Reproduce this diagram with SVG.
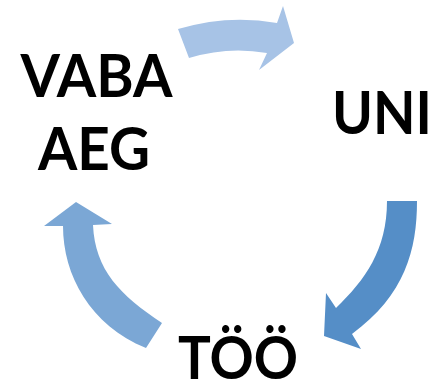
<svg xmlns="http://www.w3.org/2000/svg" width="436" height="384" viewBox="0 0 436 384">
<style>
.t{font-family:Lato,"Open Sans","Liberation Sans",sans-serif;font-weight:bold;font-size:59px;fill:#000;text-anchor:middle}
</style>
<rect width="436" height="384" fill="#fff"/>
<g id="connectors">
<path id="arrow-top" d="M178,29 Q228,14 277,23 L283,6 L294,43 L259,70 L267,53 Q228,46 189,58 Z" fill="#A7C3E6"/>
<path id="arrow-right" d="M387,201 L417,201 C417,250 405,295 352,334 L361,349 L324,336 L326,293 L336,308 C365,280 387,250 387,201 Z" fill="#558EC7"/>
<path id="arrow-left" d="M76,202 L112,224 L93,225 C95,270 120,295 162,323 L146,348 C90,325 63,275 63,226 L44,226 Z" fill="#7BA7D5"/>
</g>
<g id="node-vaba-aeg">
<text class="t" x="96.5" y="97" textLength="152" lengthAdjust="spacingAndGlyphs">VABA</text>
<text class="t" x="94" y="170" textLength="112" lengthAdjust="spacingAndGlyphs">AEG</text>
</g>
<g id="node-uni">
<text class="t" x="382" y="134" textLength="100" lengthAdjust="spacingAndGlyphs">UNI</text>
</g>
<g id="node-too">
<text class="t" x="238" y="379" textLength="120" lengthAdjust="spacingAndGlyphs">TÖÖ</text>
</g>
</svg>
